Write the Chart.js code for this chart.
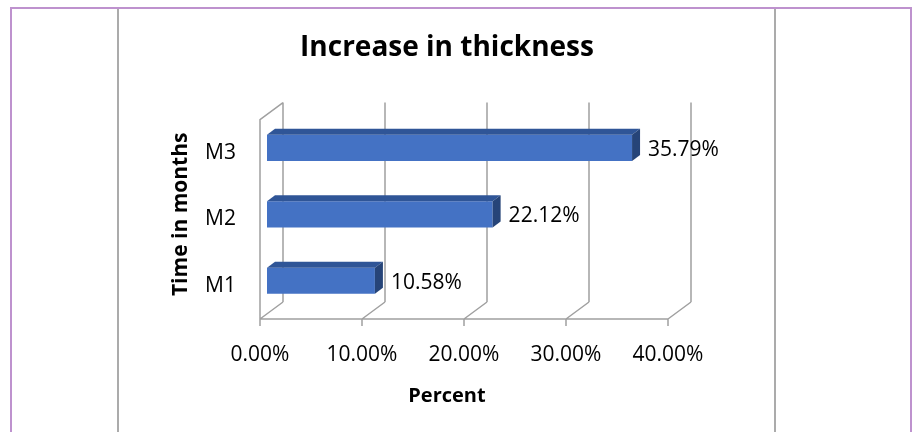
<!DOCTYPE html>
<html>
<head>
<meta charset="utf-8">
<script src="https://cdn.jsdelivr.net/npm/chart.js@4"></script>
<style>
  body { margin: 0; background: #fff; }
  #wrap { position: relative; width: 915px; height: 432px; overflow: hidden; }
  .line { position: absolute; }
  canvas { position: absolute; left: 0; top: 0; }
</style>
</head>
<body>
<div id="wrap">
  <!-- table frame around the chart -->
  <div class="line" style="left:11px; top:7px; width:901px; height:2px; background:#BE92CE;"></div>
  <div class="line" style="left:10px; top:7px; width:2px; height:425px; background:#BE92CE;"></div>
  <div class="line" style="left:910px; top:7px; width:2px; height:425px; background:#BE92CE;"></div>
  <div class="line" style="left:117px; top:9px; width:2px; height:423px; background:#ABABAB;"></div>
  <div class="line" style="left:774px; top:9px; width:2px; height:423px; background:#ABABAB;"></div>
  <canvas id="barChart" width="915" height="432"></canvas>
</div>
<script>
// Data ----------------------------------------------------
const months = ['M1', 'M2', 'M3'];
const increase = [10.58, 22.12, 35.79]; // percent
const percentTicks = [0, 10, 20, 30, 40];

const FONT = '"Open Sans", Lato, sans-serif';

// draws the 3d walls / floor behind the bars
const walls = {
  id: 'walls',
  beforeDatasetsDraw(chart) {
    const {ctx, chartArea: a, scales: {x}} = chart;
    const fdx = -7, fdy = 5, bdx = 16, bdy = -12;
    const x0 = x.getPixelForValue(percentTicks[0]);
    const xEnd = x.getPixelForValue(percentTicks[percentTicks.length - 1]);
    ctx.save();
    ctx.strokeStyle = '#A0A0A0';
    ctx.lineWidth = 1.5;
    ctx.beginPath();
    // left wall
    ctx.moveTo(x0 + fdx, a.bottom + fdy);
    ctx.lineTo(x0 + fdx, a.top + fdy);
    ctx.lineTo(x0 + bdx, a.top + bdy);
    // floor front edge
    ctx.moveTo(x0 + fdx, a.bottom + fdy);
    ctx.lineTo(xEnd + fdx, a.bottom + fdy);
    percentTicks.forEach(v => {
      const px = x.getPixelForValue(v);
      // back wall grid
      ctx.moveTo(px + bdx, a.top + bdy);
      ctx.lineTo(px + bdx, a.bottom + bdy);
      // floor diagonal
      ctx.moveTo(px + fdx, a.bottom + fdy);
      ctx.lineTo(px + bdx, a.bottom + bdy);
      // tick mark
      ctx.moveTo(px + fdx, a.bottom + fdy);
      ctx.lineTo(px + fdx, a.bottom + fdy + 7);
    });
    ctx.stroke();
    ctx.restore();
  }
};

// top + side faces of bars, then value labels
const bars3d = {
  id: 'bars3d',
  afterDatasetsDraw(chart) {
    const {ctx} = chart;
    const meta = chart.getDatasetMeta(0);
    const dx = 8, dy = -6;
    ctx.save();
    meta.data.forEach((bar, i) => {
      const top = bar.y - bar.height / 2;
      const bottom = bar.y + bar.height / 2;
      ctx.fillStyle = '#2F5597';
      ctx.beginPath();
      ctx.moveTo(bar.base, top);
      ctx.lineTo(bar.base + dx, top + dy);
      ctx.lineTo(bar.x + dx, top + dy);
      ctx.lineTo(bar.x, top);
      ctx.closePath();
      ctx.fill();
      ctx.fillStyle = '#264478';
      ctx.beginPath();
      ctx.moveTo(bar.x, top);
      ctx.lineTo(bar.x + dx, top + dy);
      ctx.lineTo(bar.x + dx, bottom + dy);
      ctx.lineTo(bar.x, bottom);
      ctx.closePath();
      ctx.fill();

      ctx.fillStyle = '#000';
      ctx.font = '21px ' + FONT;
      ctx.textAlign = 'left';
      ctx.textBaseline = 'middle';
      ctx.fillText(increase[i].toFixed(2) + '%', bar.x + 16, bar.y + 2);
    });
    ctx.restore();
  }
};

const data = {
  labels: months,
  datasets: [{
    data: increase,
    backgroundColor: '#4472C4',
    borderWidth: 0,
    categoryPercentage: 1,
    barPercentage: 0.394
  }]
};

const config = {
  type: 'bar',
  data,
  options: {
    indexAxis: 'y',
    responsive: false,
    animation: false,
    layout: { padding: { left: 119, right: 140, top: 0, bottom: 0 } },
    plugins: {
      legend: { display: false },
      tooltip: { enabled: false },
      title: {
        display: true,
        text: 'Increase in thickness',
        color: '#000',
        font: { family: FONT, size: 28, weight: 'bold' },
        padding: { top: 31, bottom: 50 }
      },
      subtitle: {
        display: true,
        position: 'bottom',
        text: 'Percent',
        color: '#000',
        font: { family: FONT, size: 20, weight: 'bold' },
        padding: { top: 0, bottom: 24 }
      }
    },
    scales: {
      x: {
        min: 0,
        max: 40,
        grid: { display: false },
        border: { display: false },
        afterBuildTicks: s => { s.ticks = percentTicks.map(v => ({ value: v })); },
        afterFit: s => { s.height = 70; },
        ticks: {
          color: '#000',
          font: { family: FONT, size: 21 },
          padding: 20,
          labelOffset: -7,
          maxRotation: 0,
          callback: v => v.toFixed(2) + '%'
        }
      },
      y: {
        reverse: true,
        grid: { display: false },
        border: { display: false },
        afterFit: s => { s.width = 148; },
        ticks: {
          color: '#000',
          font: { family: FONT, size: 21 },
          padding: 23,
          labelOffset: 5
        },
        title: {
          display: true,
          text: 'Time in months',
          color: '#000',
          font: { family: FONT, size: 21, weight: 'bold' },
          padding: { top: 49, bottom: 0 }
        }
      },
      // empty axis only to hold the space right of the plot
      pad: {
        type: 'linear',
        position: 'right',
        grid: { display: false },
        border: { display: false },
        ticks: { display: false },
        afterFit: s => { s.width = 100; }
      }
    }
  },
  plugins: [walls, bars3d]
};

new Chart(document.getElementById('barChart'), config);
</script>
</body>
</html>
